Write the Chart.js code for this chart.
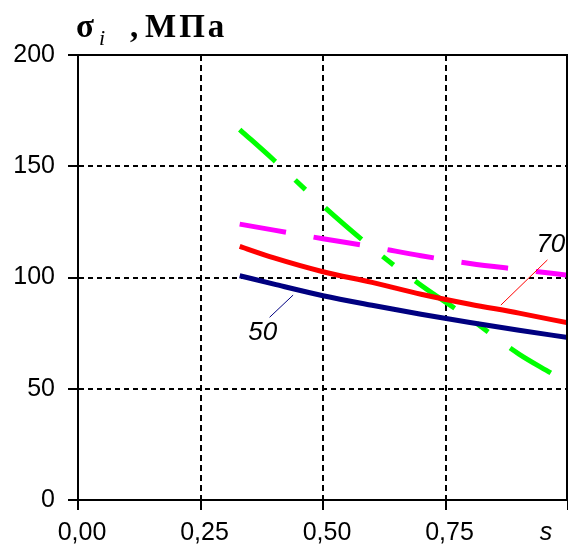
<!DOCTYPE html>
<html>
<head>
<meta charset="utf-8">
<script src="https://cdn.jsdelivr.net/npm/chart.js@4.4.0/dist/chart.umd.min.js"></script>
<style>
  body { margin: 0; background: #fff; }
  #wrap { width: 568px; height: 547px; position: relative; }
</style>
</head>
<body>
<div id="wrap"><canvas id="myChart"></canvas></div>
<script>
// values
var sValues = [0.33, 0.40, 0.50, 0.60, 0.70, 0.80, 0.90, 1.00];
var sigma50 = [100.8, 97.0, 91.8, 87.5, 83.5, 79.8, 76.3, 73.0];
var sigma70 = [114.0, 108.8, 102.6, 97.8, 92.5, 88.0, 84.0, 79.6];
var sigmaPink = [124.0, 121.3, 117.4, 113.8, 109.8, 106.3, 103.6, 101.0];
var sGreen = [0.33, 0.40, 0.50, 0.60, 0.70, 0.80, 0.90, 0.965];
var sigmaGreen = [166.5, 152.7, 132.2, 113.3, 96.5, 81.5, 65.6, 57.1];

var xTickLabels = ['0,00', '0,25', '0,50', '0,75', ''];
var yTickLabels = ['0', '50', '100', '150', '200'];

// curve captions and their leader lines (in s / sigma units)
var curveLabels = ['50', '70'];
var curveLabelS = [0.377, 0.965];
var curveLabelV = [75.3, 114.6];
var leader50S = [0.439, 0.391];
var leader50V = [92.1, 82.1];
var leader70S = [0.958, 0.863];
var leader70V = [107.9, 87.6];

function toPoints(xs, ys) {
    var pts = [];
    for (var i = 0; i < xs.length; i++) {
        pts.push({ x: xs[i], y: ys[i] });
    }
    return pts;
}

// box round the plot, captions, title and the "s" axis name
var extrasPlugin = {
    id: 'extras',
    afterDraw: function (chart) {
        var ctx = chart.ctx;
        var a = chart.chartArea;
        var xs = chart.scales.x;
        var ys = chart.scales.y;

        ctx.save();
        ctx.strokeStyle = '#000';
        ctx.lineWidth = 2;
        ctx.beginPath();
        ctx.moveTo(a.left, a.top);
        ctx.lineTo(a.right - 1, a.top);
        ctx.lineTo(a.right - 1, a.bottom);
        ctx.stroke();

        ctx.fillStyle = '#000';
        ctx.textAlign = 'center';
        ctx.textBaseline = 'middle';
        ctx.font = 'italic 26px "Liberation Sans"';
        for (var i = 0; i < curveLabels.length; i++) {
            ctx.fillText(curveLabels[i], xs.getPixelForValue(curveLabelS[i]), ys.getPixelForValue(curveLabelV[i]));
        }

        ctx.font = 'italic 25px "Liberation Sans"';
        ctx.fillText('s', 546, 533);

        // title
        ctx.textAlign = 'left';
        ctx.textBaseline = 'alphabetic';
        ctx.font = 'bold 33px "Liberation Serif"';
        ctx.fillText('\u03c3', 76, 37);
        ctx.fillText(',', 130, 37);
        ctx.font = 'italic 22px "Liberation Serif"';
        ctx.fillText('i', 99, 45);
        ctx.font = 'bold 33px "Liberation Serif"';
        ctx.letterSpacing = '3px';
        ctx.fillText('\u041c\u041f\u0430', 145, 37);
        ctx.restore();
    }
};

var ctx = document.getElementById('myChart').getContext('2d');

var myChart = new Chart(ctx, {
    type: 'line',
    data: {
        datasets: [
            {
                data: toPoints(leader50S, leader50V),
                borderColor: '#000080',
                borderWidth: 1
            },
            {
                data: toPoints(leader70S, leader70V),
                borderColor: '#ff0000',
                borderWidth: 1
            },
            {
                data: toPoints(sValues, sigma50),
                borderColor: '#000080',
                borderWidth: 5,
                cubicInterpolationMode: 'monotone'
            },
            {
                data: toPoints(sValues, sigma70),
                borderColor: '#ff0000',
                borderWidth: 5,
                cubicInterpolationMode: 'monotone'
            },
            {
                data: toPoints(sValues, sigmaPink),
                borderColor: '#ff00ff',
                borderWidth: 5,
                borderDash: [47, 28],
                cubicInterpolationMode: 'monotone'
            },
            {
                data: toPoints(sGreen, sigmaGreen),
                borderColor: '#00ff00',
                borderWidth: 5,
                borderDash: [48, 27, 14, 27],
                cubicInterpolationMode: 'monotone'
            }
        ]
    },
    options: {
        responsive: true,
        maintainAspectRatio: false,
        animation: false,
        layout: { padding: { top: 55, right: 0, left: 0, bottom: 0 } },
        elements: { point: { radius: 0, hoverRadius: 0 } },
        plugins: {
            legend: { display: false },
            tooltip: { enabled: false }
        },
        scales: {
            x: {
                type: 'linear',
                min: 0,
                max: 1,
                afterFit: function (scale) {
                    scale.height = 47;
                    scale.paddingRight = 0;
                    scale.paddingLeft = 0;
                },
                ticks: {
                    stepSize: 0.25,
                    maxRotation: 0,
                    padding: 8,
                    labelOffset: 4,
                    color: '#000',
                    font: { family: 'Liberation Sans', size: 25 },
                    callback: function (value, index) { return xTickLabels[index]; }
                },
                grid: {
                    color: '#000',
                    lineWidth: 2,
                    tickLength: 10,
                    tickWidth: 2,
                    tickColor: '#000'
                },
                border: { display: true, color: '#000', width: 2, dash: [6, 4] }
            },
            y: {
                min: 0,
                max: 200,
                afterFit: function (scale) { scale.width = 78; },
                ticks: {
                    stepSize: 50,
                    padding: 13,
                    color: '#000',
                    font: { family: 'Liberation Sans', size: 25 },
                    callback: function (value, index) { return yTickLabels[index]; }
                },
                grid: {
                    color: '#000',
                    lineWidth: 2,
                    tickLength: 10,
                    tickWidth: 2,
                    tickColor: '#000'
                },
                border: { display: true, color: '#000', width: 2, dash: [5, 4] }
            }
        }
    },
    plugins: [extrasPlugin]
});
</script>
</body>
</html>
